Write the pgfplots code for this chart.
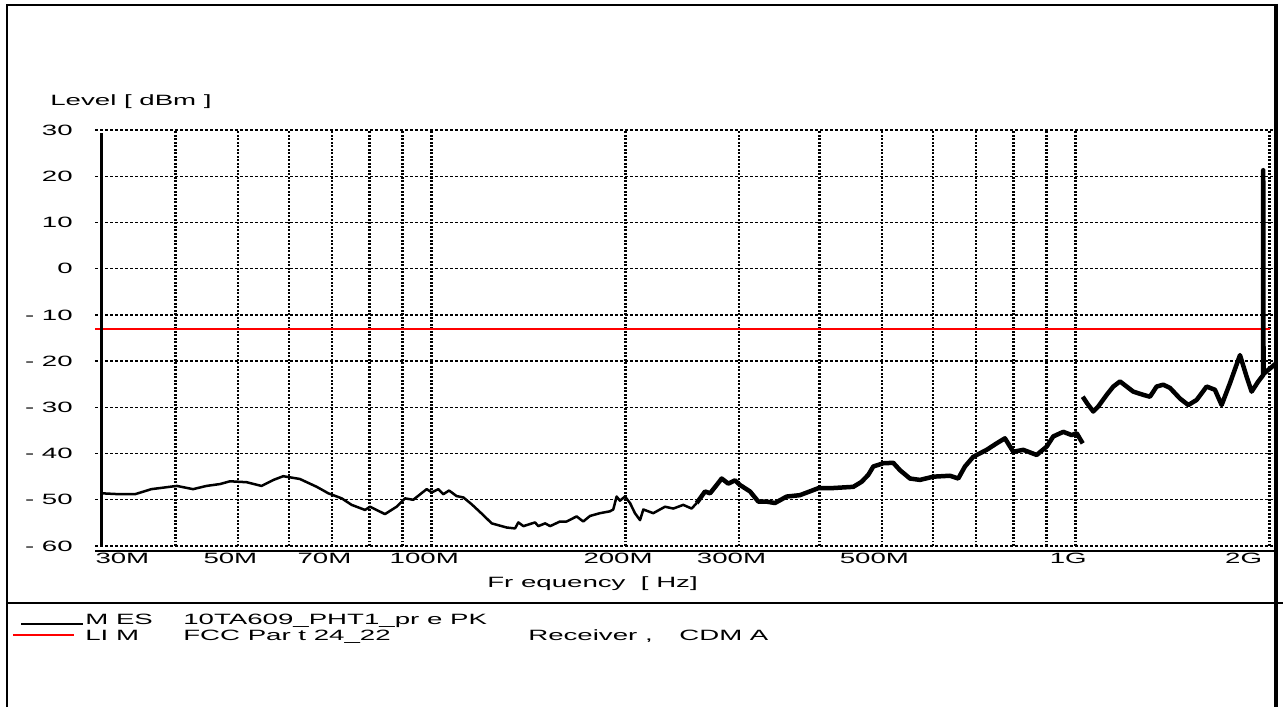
\documentclass[border=0pt]{standalone}
\usepackage{pgfplots}
\pgfplotsset{compat=1.18}
\usepackage{fontspec}
\setmainfont{Liberation Sans}[FakeStretch=1.85]
\newcommand\lf{\fontsize{8.5}{10}\selectfont}

% measurement trace, MHz / dBm
\pgfplotstableread{
f lev
30.73 -48.6
32.8 -48.8
34.6 -48.8
36.7 -47.7
40.2 -47.0
42.6 -47.7
44.7 -47.0
46.9 -46.6
48.6 -46.0
51.6 -46.2
54.4 -47.0
56.8 -45.7
58.8 -44.9
62.4 -45.5
66.3 -47.2
69.1 -48.6
72.5 -49.7
75.1 -51.1
78.8 -52.2
80.2 -51.5
84.6 -53.1
88.2 -51.5
90.9 -49.7
93.6 -50.0
98.2 -47.7
100.0 -48.4
102.4 -47.7
104.2 -48.8
106.4 -48.0
109.3 -49.2
112.0 -49.5
115.4 -51.0
120.2 -53.3
123.9 -55.1
130.7 -56.0
134.7 -56.2
136.3 -54.9
138.8 -55.7
144.7 -54.9
146.4 -55.7
150.0 -55.1
152.7 -55.7
158.2 -54.7
162.0 -54.7
167.9 -53.6
171.9 -54.7
176.1 -53.5
182.5 -52.9
189.1 -52.5
191.4 -52.1
193.7 -49.3
196.0 -50.2
199.6 -49.3
203.2 -50.7
206.8 -52.9
210.6 -54.4
213.1 -52.1
220.8 -52.9
230.3 -51.5
237.2 -51.9
245.8 -51.1
253.3 -51.9
257.9 -50.7
}\lowtrace

\pgfplotstableread{
f lev
257.9 -50.7
265.7 -48.2
270.5 -48.6
277.0 -46.8
282.0 -45.4
288.7 -46.5
295.8 -45.8
301.1 -46.8
312.1 -48.2
321.5 -50.4
331.2 -50.4
341.2 -50.7
355.8 -49.3
373.1 -49.0
398.3 -47.5
415.3 -47.5
451.5 -47.2
465.2 -46.1
476.3 -44.6
484.9 -42.8
502.5 -42.1
520.8 -42.0
533.5 -43.6
552.9 -45.4
573.1 -45.7
600.9 -45.0
637.9 -44.8
657.1 -45.4
673.0 -42.8
693.3 -40.7
727.3 -39.2
753.7 -37.8
776.5 -36.7
799.9 -39.6
829.1 -39.2
869.7 -40.3
901.4 -38.5
922.8 -36.3
956.5 -35.3
985.6 -36.0
1003.5 -35.6
1025.3 -37.8
}\midtrace

\pgfplotstableread{
f lev
1025.3 -27.7
1046.1 -29.5
1064.8 -30.9
1084.1 -29.8
1117.1 -27.3
1143.9 -25.5
1171.6 -24.4
1199.8 -25.5
1228.4 -26.6
1273.3 -27.3
1304.1 -27.7
1335.6 -25.5
1367.6 -25.1
1401.0 -25.8
1451.9 -28.1
1495.7 -29.5
1541.1 -28.4
1597.1 -25.5
1645.1 -26.2
1685.0 -29.5
1735.9 -24.8
1799.4 -18.7
1843.0 -23.4
1876.0 -26.6
1921.1 -24.4
1955.5 -23.0
1955.5 21.3
1957.5 -22.8
1991.0 -21.9
2046.6 -20.5
}\hightrace

\begin{document}
\begin{tikzpicture}
\useasboundingbox (0,0) rectangle (25.66,14.14);

\begin{axis}[
  at={(1.9cm,3.22cm)}, anchor=south west,
  scale only axis,
  width=23.62cm, height=8.32cm,
  xmode=log,
  xmin=30, xmax=2046.6,
  ymin=-60, ymax=30,
  axis line style={draw=none},
  tick style={draw=none},
  xtick={30,50,70,100,200,300,500,1000,2000},
  xticklabels={{\makebox[0pt][l]{\hspace*{0.16cm}30M}},50M,70M,100M,200M,300M,500M,1G,{\makebox[0pt][r]{2G}}},
  minor xtick={40,50,60,70,80,90,100,200,300,400,500,600,700,800,900,1000,2000},
  xmajorgrids=false, xminorgrids=true,
  ytick={-60,-50,...,30},
  yticklabels={- 60,- 50,- 40,- 30,- 20,- 10,{\hspace*{-0.14cm}0},10,20,30},
  ymajorgrids=true,
  minor x grid style={black, line width=0.05cm, dash pattern=on 0.04cm off 0.03cm},
  major y grid style={black, line width=0.025cm, dash pattern=on 0.06cm off 0.04cm},
  xticklabel style={font=\lf, anchor=north, inner sep=0pt, yshift=-0.14cm, xshift=-0.15cm},
  yticklabel style={font=\lf, anchor=east, inner sep=0pt, xshift=-0.44cm},
  clip=false,
]
\addplot[red, line width=0.035cm] coordinates {(30,-13) (2000,-13)};
\addplot[black, line width=0.06cm] coordinates {(30.73,-60) (30.73,29.4)};
\addplot[black, line width=0.05cm, line join=round] table[x=f,y=lev] {\lowtrace};
\addplot[black, line width=0.09cm, line join=round] table[x=f,y=lev] {\midtrace};
\addplot[black, line width=0.09cm, line join=round] table[x=f,y=lev] {\hightrace};
\end{axis}

% x axis line and frame
\draw[black, line width=0.04cm] (1.9,3.12) -- (25.52,3.12);
\draw[black, line width=0.04cm] (0.14,0) -- (0.14,14.04) -- (25.52,14.04);
\draw[black, line width=0.07cm] (25.52,14.06) -- (25.52,0);
\draw[black, line width=0.04cm] (0.14,2.08) -- (25.66,2.08);

% axis titles
\node[font=\lf, anchor=base west, inner sep=0pt] at (1.0,12.02) {Level [ dBm ]};
\node[font=\lf, anchor=base west, inner sep=0pt] at (9.74,2.40) {Fr equency\ \ [ Hz]};

% legend block
\draw[black, line width=0.035cm] (0.42,1.66) -- (1.66,1.66);
\draw[red, line width=0.035cm] (0.26,1.44) -- (1.48,1.44);
\node[font=\lf, anchor=base west, inner sep=0pt] at (1.70,1.66) {M ES};
\node[font=\lf, anchor=base west, inner sep=0pt] at (3.66,1.66) {10TA609\_PHT1\_pr e PK};
\node[font=\lf, anchor=base west, inner sep=0pt] at (1.70,1.34) {LI M};
\node[font=\lf, anchor=base west, inner sep=0pt] at (3.66,1.34) {FCC Par t 24\_22};
\node[font=\lf, anchor=base west, inner sep=0pt] at (10.56,1.34) {Receiver ,};
\node[font=\lf, anchor=base west, inner sep=0pt] at (13.58,1.34) {CDM A};
\end{tikzpicture}
\end{document}
